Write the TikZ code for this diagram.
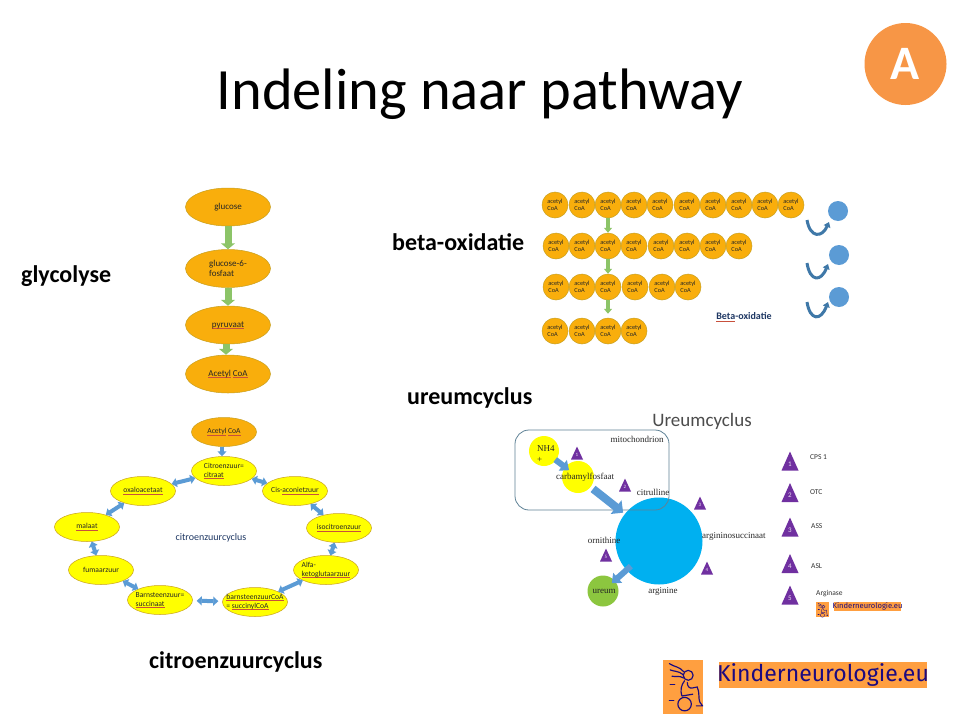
\documentclass[tikz,border=0pt]{standalone}
\usepackage{fontspec}
\setmainfont{Carlito}
\newfontfamily\camb{Liberation Serif}
\newfontfamily\kfont{Fira Sans}
\usetikzlibrary{shapes.geometric,arrows.meta}
\definecolor{eorange}{HTML}{F9AE0C}
\definecolor{cyellow}{HTML}{FFFF00}
\definecolor{eedge}{HTML}{C8A020}
\definecolor{arblue}{HTML}{5B9BD5}
\definecolor{argreen}{HTML}{8CC468}
\definecolor{tripurple}{HTML}{7030A0}
\definecolor{bigblue}{HTML}{00B0F0}
\definecolor{logoor}{HTML}{FF9F40}
\definecolor{badgeor}{HTML}{F79646}
\definecolor{logoblue}{HTML}{1C0A80}
\definecolor{navy}{HTML}{1F3864}
\definecolor{spell}{HTML}{C8503C}
\definecolor{mitoedge}{HTML}{5F8296}
\definecolor{urgreen}{HTML}{8CC63F}
\definecolor{ublue}{HTML}{3F78A8}
\newcommand{\fs}[1]{\fontsize{#1}{1.18\dimexpr #1pt\relax}\selectfont}
\newcommand{\spl}[1]{\setbox0\hbox{#1}\rlap{\textcolor{spell}{\rule[-1.3pt]{\wd0}{0.35pt}}}\box0\relax}
\newcommand{\tria}[7]{% name x y number width height fontsize
  \fill[tripurple] (#2-#5/2,#3+#6/2) -- (#2+#5/2,#3+#6/2) -- (#2,#3-#6/2) -- cycle;
  \node[text=white!85!tripurple,font=\fs{#7},inner sep=0pt] (#1) at (#2,#3+#6*0.16) {#4};}
\newcommand{\kid}[3]{%
  \begin{scope}[shift={(#1,#2)},x=#3pt,y=-#3pt,draw=logoblue,line width=#3*1.3pt,line cap=round,line join=round]
    \draw (28,17) circle[radius=5.5];
    \draw (23,13) .. controls (18,7) and (13,8) .. (7,4);
    \draw (22,16) .. controls (17,12) and (13,13) .. (8,11);
    \draw (23,20) .. controls (18,17) and (14,19) .. (10,18);
    \draw (24,23) .. controls (20,28) and (19,34) .. (21,40) -- (33,38);
    \draw (27,25) .. controls (27,29) and (29,32) .. (33,31) -- (38,30);
    \draw (38,30) .. controls (41,36) and (39,43) .. (41,47) -- (44,51) -- (37,51);
    \draw (24,49) circle[radius=7.5];
    \draw (8,27) -- (13,27);
    \draw (7,45) -- (12,45);
  \end{scope}}
\tikzset{
  gly/.style={ellipse,draw=eedge,line width=.5pt,fill=eorange,minimum width=85pt,minimum height=38pt,inner sep=0pt,align=left,font=\fs{9},text=black!85},
  cyc/.style={ellipse,draw=eedge,line width=.5pt,fill=cyellow,minimum width=65pt,minimum height=29pt,inner sep=-12pt,align=left,font=\fs{7.6},text=black!85},
  coa/.style={circle,draw=eedge,line width=.5pt,fill=eorange,minimum size=26pt,inner sep=0pt,align=left,font=\fs{6.3},text=black!85},
  heading/.style={font=\bfseries\fs{24},text=black,inner sep=0pt},
  greenarrow/.style={draw=argreen,line width=7pt,-{Triangle[width=14pt,length=6pt]}},
  greensmall/.style={draw=argreen,line width=4pt,-{Triangle[width=8pt,length=5pt]}},
  dblarrow/.style={draw=arblue,line width=4pt,{Triangle[width=9pt,length=5pt]}-{Triangle[width=9pt,length=5pt]}},
  onearrow/.style={draw=arblue,line width=4pt,-{Triangle[width=9pt,length=5pt]}},
  ulab/.style={font=\camb\fs{9},text=black!85,inner sep=0pt},
  leg/.style={font=\fs{7.5},text=black!80,anchor=west,inner sep=0pt},
  ucirc/.style={circle,inner sep=0pt},
  blob/.style={circle,fill=arblue,minimum size=20pt,inner sep=0pt},
  uarrow/.style={draw=ublue,line width=3pt,-{Triangle[width=7pt,length=5pt]}},
}
\begin{document}
\begin{tikzpicture}[x=1pt,y=-1pt]
\useasboundingbox (0,0) rectangle (960,720);
\fill[white] (0,0) rectangle (960,720);

% title and badge
\node[font=\fs{58.5},inner sep=0pt] (title) at (480,94) {Indeling naar pathway};
\node[circle,fill=badgeor,minimum size=82pt,inner sep=0pt,font=\bfseries\fs{48},text=white] (badge) at (905.5,64) {A};

% headings
\node[heading,anchor=west] (h1) at (21,276) {glycolyse};
\node[heading,anchor=west] (h2) at (392,242) {beta-oxidatie};
\node[heading,anchor=west] (h3) at (407,398) {ureumcyclus};
\node[heading,anchor=west] (h4) at (149,662) {citroenzuurcyclus};

% glycolysis
\node[gly] (g1) at (228,207) {glucose};
\node[gly] (g2) at (228,268.5) {glucose-6-\\fosfaat};
\node[gly] (g3) at (228,325) {\spl{pyruvaat}};
\node[gly] (g4) at (228,374) {\spl{Acetyl} \spl{CoA}};
\draw[greenarrow] (g1) -- (g2);
\draw[greenarrow] (g2) -- (g3);
\draw[greenarrow] ([xshift=-2pt]g3.south) -- ([xshift=-2pt]g4.north);

% citric acid cycle
\node[cyc,fill=eorange] (c0) at (224,432) {\spl{Acetyl} \spl{CoA}};
\node[cyc] (c1) at (224,471) {Citroenzuur=\\\spl{citraat}};
\node[cyc] (c2) at (295,491) {Cis-\spl{aconietzuur}};
\node[cyc] (c3) at (339,528) {\spl{isocitroenzuur}};
\node[cyc] (c4) at (326,570) {Alfa-\\\spl{ketoglutaarzuur}};
\node[cyc] (c5) at (255,602) {\spl{barnsteenzuurCoA}\\= \spl{succinylCoA}};
\node[cyc] (c6) at (160,600) {Barnsteenzuur=\\\spl{succinaat}};
\node[cyc] (c7) at (101,570) {fumaarzuur};
\node[cyc] (c8) at (87,527) {\spl{malaat}};
\node[cyc] (c9) at (143,491) {\spl{oxaloacetaat}};
\node[font=\fs{10},text=navy,inner sep=0pt] (cc) at (211,538) {citroenzuurcyclus};
\draw[onearrow] ([xshift=-2pt]c0.south) -- ([xshift=-2pt]c1.north);
\draw[dblarrow] (c1) -- (c2);
\draw[dblarrow] (c2) -- (c3);
\draw[dblarrow] (c3) -- (c4);
\draw[dblarrow] (c4) -- (c5);
\draw[dblarrow,shorten <=4pt,shorten >=4pt] (c5) -- (c6);
\draw[dblarrow] (c6) -- (c7);
\draw[dblarrow] (c7) -- (c8);
\draw[dblarrow] (c8) -- (c9);
\draw[dblarrow] (c9) -- (c1);

% beta oxidation
\foreach \n/\x in {1/555,2/582,3/608,4/634,5/660,6/687,7/713,8/739,9/765,10/791}
  \node[coa] (a\n) at (\x,205) {acetyl\\CoA};
\foreach \n/\x in {1/556,2/582,3/608,4/634,5/661,6/687,7/713,8/739}
  \node[coa] (b\n) at (\x,246) {acetyl\\CoA};
\foreach \n/\x in {1/556,2/582,3/608,4/635,5/662,6/688}
  \node[coa] (d\n) at (\x,287) {acetyl\\CoA};
\foreach \n/\x in {1/555,2/582,3/608,4/634}
  \node[coa] (e\n) at (\x,331) {acetyl\\CoA};
\draw[greensmall] (a3) -- (b3);
\draw[greensmall] (b3) -- (d3);
\draw[greensmall,shorten >=4pt] (d3) -- (e3);
\node[font=\bfseries\fs{10},text=navy,inner sep=0pt] (bo) at (744,317) {\spl{Beta}-oxidatie};
\node[blob] (p1) at (838,211) {};
\node[blob] (p2) at (839,255) {};
\node[blob] (p3) at (839,297) {};
\coordinate (u1) at (807,220);
\coordinate (v1) at (829,222);
\coordinate (u2) at (807,263);
\coordinate (v2) at (828,264);
\coordinate (u3) at (807,302);
\coordinate (v3) at (828,302);
\draw[uarrow] (u1) .. controls (810,238) and (822,238) .. (v1);
\draw[uarrow] (u2) .. controls (810,282) and (821,282) .. (v2);
\draw[uarrow] (u3) .. controls (810,321) and (821,321) .. (v3);

% urea cycle
\node[font=\fs{19},text=black!70,inner sep=0pt] (ut) at (702,421) {Ureumcyclus};
\node[ucirc,fill=bigblue,minimum size=87pt] (big) at (659,541) {};
\node[ucirc,fill=cyellow,minimum size=30pt] (nh) at (544,451) {};
\node[ucirc,fill=cyellow,minimum size=32pt] (carb) at (578,477) {};
\node[ucirc,fill=urgreen,minimum size=31pt] (ur) at (603,591) {};
\node[draw=mitoedge,line width=.8pt,rounded corners=14pt,minimum width=154pt,minimum height=80pt,inner sep=0pt] (mito) at (592,470) {};
\draw[draw=arblue,line width=6pt,-{Triangle[width=13pt,length=8pt]},shorten <=-1pt,shorten >=-5pt] (nh) -- (carb);
\draw[draw=arblue,line width=8pt,-{Triangle[width=17pt,length=9pt]},shorten <=3pt,shorten >=2pt] (carb) -- (big);
\draw[draw=arblue,line width=6pt,-{Triangle[width=13pt,length=8pt]},shorten <=-6pt,shorten >=-4pt] (big) -- (ur);
\node[ulab,anchor=west,align=left] (lnh) at (537,454) {NH4\\+};
\node[ulab] (lcarb) at (585,477) {carbamylfosfaat};
\node[ulab] (lmit) at (637,439) {mitochondrion};
\node[ulab] (lcit) at (653,492) {citrulline};
\node[ulab,anchor=west] (larg) at (702,536) {argininosuccinaat};
\node[ulab] (lorn) at (604,540) {ornithine};
\node[ulab] (lagn) at (663,591) {arginine};
\node[ulab] (lur) at (604,591) {ureum};
\tria{t1}{577}{453}{1}{12}{13}{5}
\tria{t2}{625}{485}{2}{12}{13}{5}
\tria{t3}{700}{503}{3}{12}{13}{5}
\tria{t4}{707}{568}{4}{12}{13}{5}
\tria{t5}{606}{555}{5}{12}{13}{5}

% legend
\tria{k1}{790}{461}{1}{17}{19}{7}
\tria{k2}{790}{492.5}{2}{17}{19}{7}
\tria{k3}{790}{527}{3}{17}{19}{7}
\tria{k4}{790}{563.5}{4}{17}{19}{7}
\tria{k5}{790}{595}{5}{17}{19}{7}
\node[leg] (l1) at (810,457) {CPS 1};
\node[leg] (l2) at (810,492) {OTC};
\node[leg] (l3) at (811,526) {ASS};
\node[leg] (l4) at (811,566) {ASL};
\node[leg] (l5) at (816,594) {Arginase};

% small logo
\fill[logoor] (816,602) rectangle (829,617);
\kid{816}{602}{0.27}
\fill[logoor] (834,602) rectangle (901,611);
\node[font=\kfont\fs{7.6},text=logoblue,inner sep=0pt] (sl) at (867.5,606.3) {Kinderneurologie.eu};

% large logo
\fill[logoor] (663,660) rectangle (703,714);
\kid{663}{660}{0.9}
\fill[logoor] (719,662) rectangle (927,688);
\node[font=\kfont\fs{23},text=logoblue,inner sep=0pt] (ll) at (823,675) {Kinderneurologie.eu};
\end{tikzpicture}
\end{document}
